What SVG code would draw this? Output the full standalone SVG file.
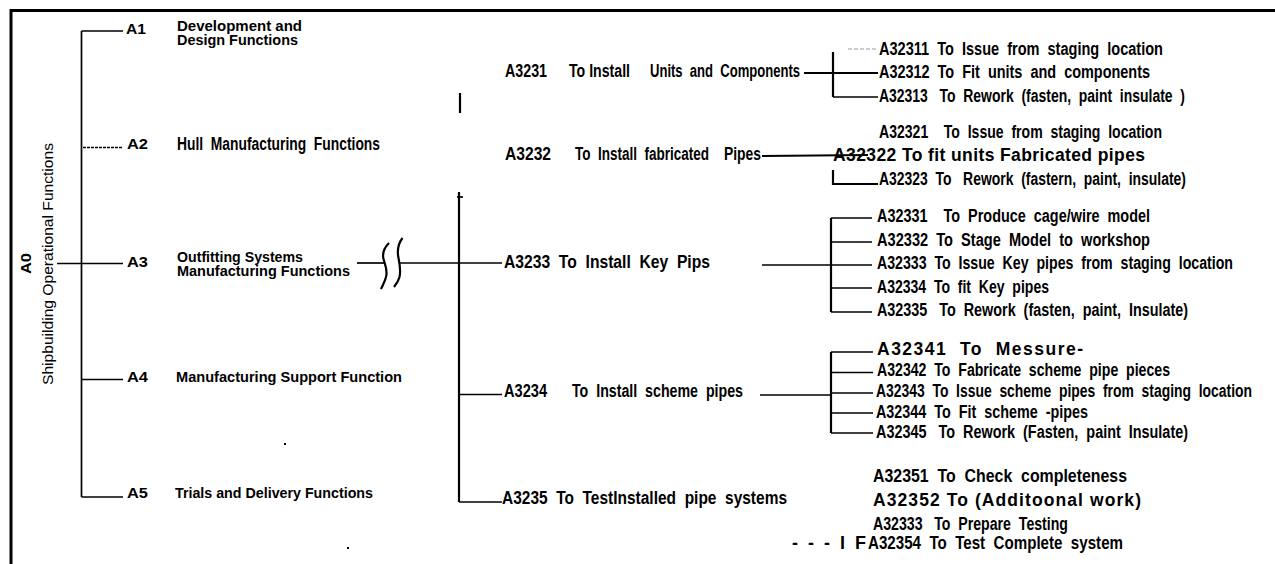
<svg xmlns="http://www.w3.org/2000/svg" width="1275" height="564" viewBox="0 0 1275 564">
<style>
text { fill: #000; }
.lab { font-family: "Liberation Sans", Arial, Helvetica, sans-serif; font-weight: bold; font-size: 15px; }
.lft { font-family: "Liberation Sans", Arial, Helvetica, sans-serif; font-weight: bold; font-size: 15px; }
.n { font-family: "Liberation Sans Narrow", "Arial Narrow", "Liberation Sans", Arial, sans-serif; font-weight: bold; font-size: 18px; }
.big { font-family: "Liberation Sans", Arial, Helvetica, sans-serif; font-weight: bold; font-size: 17.5px; }
.rot { font-family: "Liberation Sans", Arial, Helvetica, sans-serif; font-size: 15.5px; }
.ln { stroke: #000; stroke-width: 1.7; fill: none; }
.th { stroke: #000; stroke-width: 2.2; fill: none; }
.fr { stroke: #000; stroke-width: 3; fill: none; }
</style>

<rect x="0" y="0" width="1275" height="564" fill="#fff"/>

<!-- frame -->
<g id="frame">
  <line class="fr" x1="10" y1="10.5" x2="1275" y2="10.5"/>
  <line class="fr" x1="11" y1="9" x2="11" y2="564"/>
</g>

<!-- connectors -->
<g id="connectors">
  <!-- left tree -->
  <line class="ln" x1="81.5" y1="31" x2="81.5" y2="497"/>
  <line class="ln" x1="81.5" y1="31" x2="123" y2="31"/>
  <line class="ln" x1="83" y1="147.5" x2="123" y2="147.5" stroke-dasharray="3 1"/>
  <line class="ln" x1="57" y1="263.5" x2="123" y2="263.5"/>
  <line class="ln" x1="81.5" y1="379.5" x2="123" y2="379.5"/>
  <line class="ln" x1="81.5" y1="497" x2="123" y2="497"/>

  <!-- A3 to A32 branch -->
  <line class="ln" x1="357" y1="263" x2="384" y2="263"/>
  <path class="th" d="M389,243 C384,248 382,253 383.5,259 C385,265 388,270 386,277 C385,281 383,285 381,289"/>
  <path class="th" d="M402.5,238 C398,244 397,251 398.5,258 C400,265 401,270 399.5,277 C398.5,281 396.5,284 394,287"/>
  <line class="ln" x1="400" y1="263" x2="502" y2="263"/>

  <!-- middle vertical -->
  <line class="th" x1="460" y1="93" x2="460" y2="113"/>
  <line class="th" x1="459" y1="192" x2="459" y2="502"/>
  <line class="ln" x1="457" y1="197" x2="463" y2="197"/>
  <line class="ln" x1="459" y1="394.5" x2="502" y2="394.5"/>
  <line class="ln" x1="459" y1="502" x2="502" y2="502"/>

  <!-- A3231 group -->
  <line x1="848" y1="49" x2="878" y2="49" stroke="#999" stroke-width="1" stroke-dasharray="4 2"/>
  <line class="th" x1="804" y1="73" x2="878" y2="73"/>
  <line class="th" x1="833" y1="52" x2="833" y2="97"/>
  <line class="ln" x1="833" y1="97" x2="878" y2="97"/>

  <!-- A3232 group -->
  <line class="th" x1="762" y1="156" x2="868" y2="155"/>
  <polyline class="th" points="833,170 833,184 878,184"/>

  <!-- A3233 group -->
  <line class="ln" x1="762" y1="265" x2="831" y2="265"/>
  <line class="th" x1="831" y1="218" x2="831" y2="312"/>
  <line class="ln" x1="831" y1="218" x2="872" y2="218"/>
  <line class="ln" x1="831" y1="242" x2="872" y2="242"/>
  <line class="ln" x1="831" y1="265" x2="872" y2="265"/>
  <line class="ln" x1="831" y1="288" x2="872" y2="288"/>
  <line class="ln" x1="831" y1="312" x2="872" y2="312"/>

  <!-- A3234 group -->
  <line class="ln" x1="760" y1="395" x2="831" y2="395"/>
  <line class="th" x1="831" y1="352" x2="831" y2="433"/>
  <line class="ln" x1="831" y1="352" x2="873" y2="352"/>
  <line class="ln" x1="831" y1="372.5" x2="873" y2="372.5"/>
  <line class="ln" x1="831" y1="393" x2="873" y2="393"/>
  <line class="ln" x1="831" y1="413" x2="873" y2="413"/>
  <line class="ln" x1="831" y1="433" x2="873" y2="433"/>
</g>

<!-- A0 -->
<g id="A0">
  <text class="lab" font-size="16" transform="translate(31,274) rotate(-90)" textLength="21" lengthAdjust="spacingAndGlyphs">A0</text>
  <text class="rot" transform="translate(53,385) rotate(-90)" textLength="242" lengthAdjust="spacingAndGlyphs">Shipbuilding Operational Functions</text>
</g>

<!-- level 1 nodes -->
<g id="A1">
  <text class="lab" x="126" y="34" textLength="20" lengthAdjust="spacingAndGlyphs">A1</text>
  <text class="lft" x="177" y="31" textLength="125" lengthAdjust="spacingAndGlyphs">Development and</text>
  <text class="lft" x="177" y="44.5" textLength="121" lengthAdjust="spacingAndGlyphs">Design Functions</text>
</g>
<g id="A2">
  <text class="lab" x="127" y="149" textLength="21" lengthAdjust="spacingAndGlyphs">A2</text>
  <text class="n" font-size="16.5" x="177" y="150" textLength="203" lengthAdjust="spacingAndGlyphs" xml:space="preserve">Hull  Manufacturing  Functions</text>
</g>
<g id="A3">
  <text class="lab" x="127" y="267" textLength="21" lengthAdjust="spacingAndGlyphs">A3</text>
  <text class="lft" x="177" y="262" textLength="126" lengthAdjust="spacingAndGlyphs">Outfitting Systems</text>
  <text class="lft" x="177" y="276" textLength="173" lengthAdjust="spacingAndGlyphs">Manufacturing Functions</text>
</g>
<g id="A4">
  <text class="lab" x="127" y="382" textLength="21" lengthAdjust="spacingAndGlyphs">A4</text>
  <text class="lft" x="176" y="382" textLength="226" lengthAdjust="spacingAndGlyphs">Manufacturing Support Function</text>
</g>
<g id="A5">
  <text class="lab" x="127" y="498" textLength="21" lengthAdjust="spacingAndGlyphs">A5</text>
  <text class="lft" x="175" y="498" textLength="198" lengthAdjust="spacingAndGlyphs">Trials and Delivery Functions</text>
</g>

<!-- small marks -->
<g id="marks">
  <rect x="284" y="443" width="2" height="2" fill="#000"/>
  <rect x="347" y="547" width="2" height="2" fill="#000"/>
</g>

<!-- level 2 nodes -->
<g id="A3231">
  <text class="n" x="505" y="77" textLength="42" lengthAdjust="spacingAndGlyphs">A3231</text>
  <text class="n" x="569" y="77" textLength="61" lengthAdjust="spacingAndGlyphs">To Install</text>
  <text class="n" x="650" y="77" textLength="150" lengthAdjust="spacingAndGlyphs" xml:space="preserve">Units  and  Components</text>
</g>
<g id="A3232">
  <text class="n" x="505" y="160" textLength="46" lengthAdjust="spacingAndGlyphs">A3232</text>
  <text class="n" x="575" y="160" textLength="134" lengthAdjust="spacingAndGlyphs" xml:space="preserve">To  Install  fabricated</text>
  <text class="n" x="724" y="160" textLength="37" lengthAdjust="spacingAndGlyphs">Pipes</text>
</g>
<g id="A3233">
  <text class="n" x="504" y="268" textLength="206" lengthAdjust="spacingAndGlyphs" xml:space="preserve">A3233  To  Install  Key  Pips</text>
</g>
<g id="A3234">
  <text class="n" x="504" y="397" textLength="43" lengthAdjust="spacingAndGlyphs">A3234</text>
  <text class="n" x="572" y="397" textLength="171" lengthAdjust="spacingAndGlyphs" xml:space="preserve">To  Install  scheme  pipes</text>
</g>
<g id="A3235">
  <text class="n" x="502" y="504" textLength="285" lengthAdjust="spacingAndGlyphs" xml:space="preserve">A3235  To  TestInstalled  pipe  systems</text>
</g>

<!-- level 3 nodes -->
<g id="A32311"><text class="n" x="879" y="55" textLength="284" lengthAdjust="spacingAndGlyphs" xml:space="preserve">A32311  To  Issue  from  staging  location</text></g>
<g id="A32312"><text class="n" x="879" y="78" textLength="271" lengthAdjust="spacingAndGlyphs" xml:space="preserve">A32312  To  Fit  units  and  components</text></g>
<g id="A32313"><text class="n" x="879" y="102" textLength="306" lengthAdjust="spacingAndGlyphs" xml:space="preserve">A32313   To  Rework  (fasten,  paint  insulate  )</text></g>

<g id="A32321"><text class="n" x="879" y="138" textLength="283" lengthAdjust="spacingAndGlyphs" xml:space="preserve">A32321    To  Issue  from  staging  location</text></g>
<g id="A32322"><text class="big" x="833" y="161" textLength="312" lengthAdjust="spacing">A32322 To fit units Fabricated pipes</text></g>
<g id="A32323"><text class="n" x="879" y="185" textLength="307" lengthAdjust="spacingAndGlyphs" xml:space="preserve">A32323  To   Rework  (fastern,  paint,  insulate)</text></g>

<g id="A32331"><text class="n" x="877" y="222" textLength="273" lengthAdjust="spacingAndGlyphs" xml:space="preserve">A32331    To  Produce  cage/wire  model</text></g>
<g id="A32332"><text class="n" x="877" y="246" textLength="273" lengthAdjust="spacingAndGlyphs" xml:space="preserve">A32332  To  Stage  Model  to  workshop</text></g>
<g id="A32333"><text class="n" x="877" y="269" textLength="356" lengthAdjust="spacingAndGlyphs" xml:space="preserve">A32333  To  Issue  Key  pipes  from  staging  location</text></g>
<g id="A32334"><text class="n" x="877" y="293" textLength="172" lengthAdjust="spacingAndGlyphs" xml:space="preserve">A32334  To  fit  Key  pipes</text></g>
<g id="A32335"><text class="n" x="877" y="316" textLength="311" lengthAdjust="spacingAndGlyphs" xml:space="preserve">A32335   To  Rework  (fasten,  paint,  Insulate)</text></g>

<g id="A32341"><text class="big" x="877" y="355" textLength="206" lengthAdjust="spacing" xml:space="preserve">A32341  To  Messure-</text></g>
<g id="A32342"><text class="n" x="877" y="376" textLength="293" lengthAdjust="spacingAndGlyphs" xml:space="preserve">A32342  To  Fabricate  scheme  pipe  pieces</text></g>
<g id="A32343"><text class="n" x="876" y="397" textLength="376" lengthAdjust="spacingAndGlyphs" xml:space="preserve">A32343  To  Issue  scheme  pipes  from  staging  location</text></g>
<g id="A32344"><text class="n" x="876" y="418" textLength="212" lengthAdjust="spacingAndGlyphs" xml:space="preserve">A32344  To  Fit  scheme  -pipes</text></g>
<g id="A32345"><text class="n" x="876" y="438" textLength="312" lengthAdjust="spacingAndGlyphs" xml:space="preserve">A32345   To  Rework  (Fasten,  paint  Insulate)</text></g>

<g id="A32351"><text class="n" x="873" y="482" textLength="254" lengthAdjust="spacingAndGlyphs" xml:space="preserve">A32351  To  Check  completeness</text></g>
<g id="A32352"><text class="big" x="873" y="506" textLength="268" lengthAdjust="spacing">A32352 To (Additoonal work)</text></g>
<g id="A32333b"><text class="n" x="873" y="530" textLength="195" lengthAdjust="spacingAndGlyphs" xml:space="preserve">A32333   To  Prepare  Testing</text></g>
<g id="A32354">
  <text class="n" x="792" y="549" textLength="74" lengthAdjust="spacing" xml:space="preserve">-  -  -  I  F</text>
  <text class="n" x="868" y="549" textLength="255" lengthAdjust="spacingAndGlyphs" xml:space="preserve">A32354  To  Test  Complete  system</text>
</g>
</svg>
